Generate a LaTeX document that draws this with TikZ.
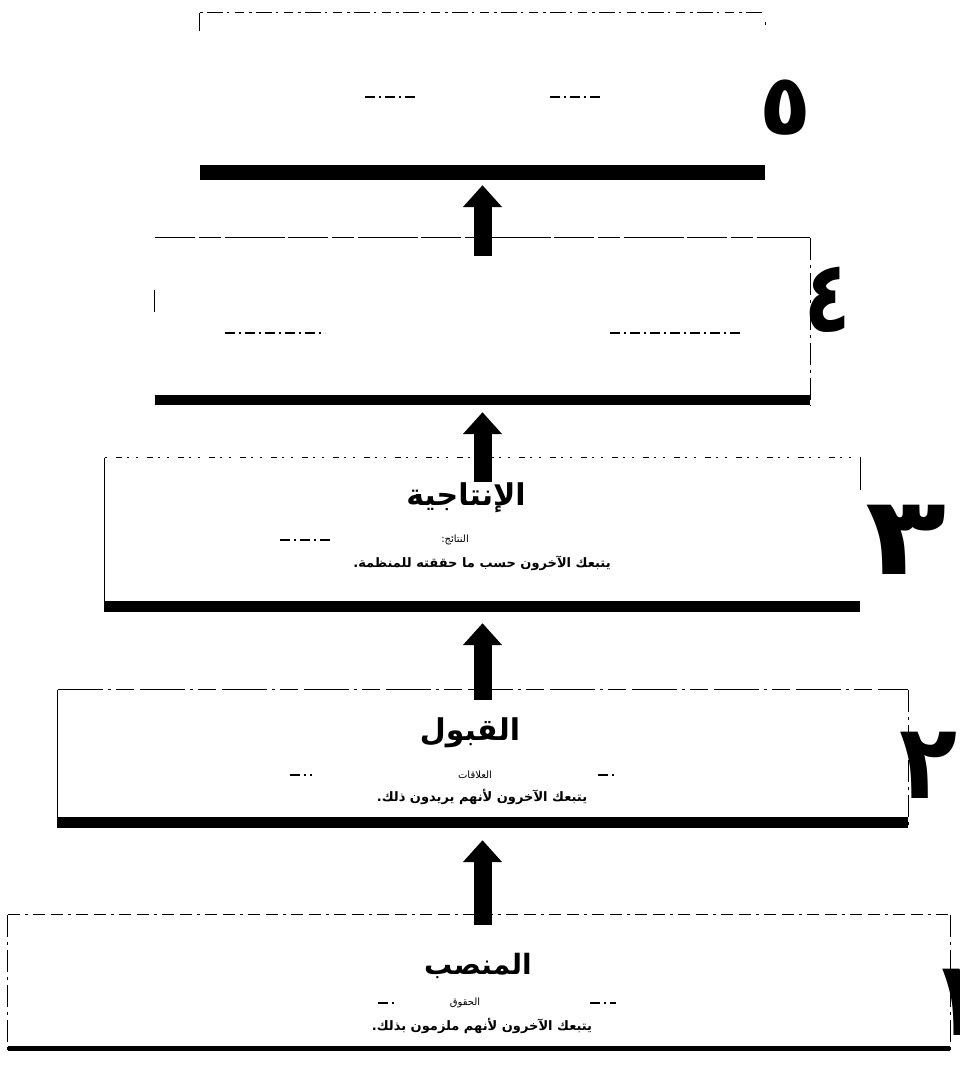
\documentclass[tikz,border=0pt]{standalone}
\usepackage{fontspec}
\setmainfont{DejaVu Sans}
\newfontfamily\arabicfont[Script=Arabic]{DejaVu Sans}
\TeXXeTstate=1
\usetikzlibrary{arrows.meta,calc}
\tikzset{
  levelbox/.style={draw=none, inner sep=0pt, rectangle},
  topedgeA/.style={line width=1.1pt, dash pattern=on 3pt off 4pt on 16pt off 4pt on 2pt off 6pt on 9pt off 5pt},
  topedgeB/.style={line width=1.1pt, dash pattern=on 40pt off 4pt on 22pt off 4pt on 60pt off 3pt},
  topedgeC/.style={line width=1.1pt, dash pattern=on 2pt off 9pt on 6pt off 5pt on 2pt off 7pt},
  topedgeD/.style={line width=1.1pt, dash pattern=on 45pt off 5pt on 3pt off 5pt on 18pt off 6pt},
  topedgeE/.style={line width=1.1pt, dash pattern=on 12pt off 5pt on 3pt off 5pt on 12pt off 6pt},
  sideedge/.style={line width=1.1pt, dash pattern=on 22pt off 5pt on 3pt off 5pt},
  solidside/.style={line width=1.1pt},
  bar/.style={fill=black, draw=none},
  blockarrow/.style={line width=18pt, -{Triangle[width=38pt,length=22pt]}},
  title/.style={font=\arabicfont\bfseries\fontsize{30}{34}\selectfont, inner sep=0pt},
  subtitle/.style={font=\arabicfont\fontsize{10}{12}\selectfont, inner sep=0pt},
  line/.style={font=\arabicfont\bfseries\fontsize{13}{15}\selectfont, inner sep=0pt},
  digit/.style={font=\arabicfont\bfseries\fontsize{95}{100}\selectfont, inner sep=0pt},
  frag/.style={line width=1.2pt, dash pattern=on 10pt off 4pt on 2pt off 4pt}
}
\begin{document}
\begin{tikzpicture}[x=1pt,y=-1pt]
\useasboundingbox (0,0) rectangle (960,1075);

% level boxes
\node[levelbox, minimum width=565pt, minimum height=167pt] (b5) at (482.5,96.5) {};
\node[levelbox, minimum width=655pt, minimum height=167pt] (b4) at (482.5,321.5) {};
\node[levelbox, minimum width=755pt, minimum height=154pt] (b3) at (482.5,535) {};
\node[levelbox, minimum width=850pt, minimum height=138pt] (b2) at (483,759) {};
\node[levelbox, minimum width=942pt, minimum height=136pt] (b1) at (479,983) {};

% top edges
\draw[topedgeA] (b5.north west) -- (b5.north east);
\draw[topedgeB] (b4.north west) -- (b4.north east);
\draw[topedgeC] (b3.north west) -- (b3.north east);
\draw[topedgeD] (b2.north west) -- (b2.north east);
\draw[topedgeE] (b1.north west) -- (b1.north east);

% side edges
\draw[solidside] (b5.north west) -- ([yshift=-18pt]b5.north west);
\draw[solidside] ([yshift=-9pt]b5.north east) -- ([yshift=-12pt]b5.north east);
\draw[sideedge] (b4.north east) -- (b4.south east);
\draw[solidside] ([yshift=-52pt]b4.north west) -- ([yshift=-74pt]b4.north west);
\draw[solidside] (b3.north west) -- (b3.south west);
\draw[solidside] (b3.north east) -- ([yshift=-32pt]b3.north east);
\draw[solidside] (b2.north west) -- (b2.south west);
\draw[sideedge] (b2.north east) -- (b2.south east);
\draw[sideedge] (b1.north west) -- (b1.south west);
\draw[sideedge] (b1.north east) -- (b1.south east);

% thick bottom bars
\fill[bar] (b5.south west) rectangle ([yshift=15pt]b5.south east);
\fill[bar] (b4.south west) rectangle ([yshift=10pt]b4.south east);
\fill[bar] (b3.south west) rectangle ([yshift=11pt]b3.south east);
\fill[bar] (b2.south west) rectangle ([yshift=11pt]b2.south east);
\fill[bar] (b1.south west) rectangle ([yshift=5pt]b1.south east);

% arrows (all on the same vertical axis)
\draw[blockarrow] ($(b5.south |- b4.north)+(0,18)$) -- ($(b5.south)+(0,5)$);
\draw[blockarrow] ($(b5.south |- b3.north)+(0,24)$) -- ($(b5.south |- b4.south)+(0,7)$);
\draw[blockarrow] ($(b5.south |- b2.north)+(0,10)$) -- ($(b5.south |- b3.south)+(0,11)$);
\draw[blockarrow] ($(b5.south |- b1.north)+(0,10)$) -- ($(b5.south |- b2.south)+(0,12)$);

% fragments in upper boxes
\draw[frag] (365,97) -- (415,97);
\draw[frag] (550,97) -- (600,97);
\draw[frag] (225,333) -- (325,333);
\draw[frag] (610,333) -- (740,333);

% texts level 3
\node[title] (t3) at (466,498) {\beginR الإنتاجية\endR};
\node[subtitle] (s3) at (455,540) {\beginR النتائج:\endR};
\draw[frag] (280,540) -- (330,540);
\node[line] (l3) at (482,563) {\beginR يتبعك الآخرون حسب ما حققته للمنظمة.\endR};

% texts level 2
\node[title] (t2) at (470,733) {\beginR القبول\endR};
\node[subtitle] (s2) at (475,775) {\beginR العلاقات\endR};
\draw[frag] (290,775) -- (312,775);
\draw[frag] (598,775) -- (616,775);
\node[line] (l2) at (482,797) {\beginR يتبعك الآخرون لأنهم يريدون ذلك.\endR};

% texts level 1
\node[title, font=\arabicfont\bfseries\fontsize{28}{32}\selectfont] (t1) at (478,966) {\beginR المنصب\endR};
\node[subtitle] (s1) at (465,1003) {\beginR الحقوق\endR};
\draw[frag] (378,1003) -- (396,1003);
\draw[frag] (590,1003) -- (616,1003);
\node[line] (l1) at (482,1026) {\beginR يتبعك الآخرون لأنهم ملزمون بذلك.\endR};

% level digits
\node[digit, font=\arabicfont\bfseries\fontsize{85}{90}\selectfont] (d5) at (785,108) {\beginR ٥\endR};
\node[digit, xscale=0.8, yscale=1.05] (d4) at (828,300) {\beginR ٤\endR};
\node[digit, xscale=1.4, yscale=1.15] (d3) at (906,540) {\beginR ٣\endR};
\node[digit, yscale=1.1] (d2) at (928,765) {\beginR ٢\endR};
\node[digit, yscale=1.1] (d1) at (958,1002) {\beginR ١\endR};
\end{tikzpicture}
\end{document}
